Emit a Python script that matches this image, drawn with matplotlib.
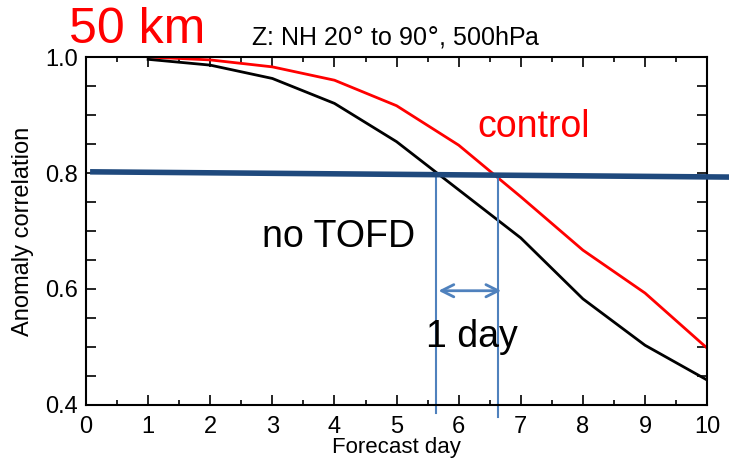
import matplotlib
matplotlib.use("Agg")
import matplotlib.pyplot as plt
from matplotlib.ticker import MultipleLocator

plt.rcParams["font.family"] = ["Liberation Sans", "DejaVu Sans"]

days = [1, 2, 3, 4, 5, 6, 7, 8, 9, 10]
control = [1.000, 0.995, 0.983, 0.960, 0.916, 0.848, 0.759, 0.667, 0.593, 0.498]
no_tofd = [0.996, 0.986, 0.963, 0.920, 0.854, 0.771, 0.688, 0.583, 0.503, 0.443]

# 0.8 threshold line (drawn slightly tilted, as in the slide) and the 1-day lead marks
thresh_x = [0.11, 10.35]
thresh_y = [0.802, 0.793]
cross_days = [5.63, 6.63]
arrow_y = 0.597

fig = plt.figure(figsize=(7.29, 4.62), dpi=100)
ax = fig.add_axes([0.118, 0.1234, 0.852, 0.7532])

ax.plot(days, control, color="#ff0000", lw=2.0)
ax.plot(days, no_tofd, color="black", lw=2.0)

ax.set_xlim(0, 10)
ax.set_ylim(0.4, 1.0)
ax.xaxis.set_major_locator(MultipleLocator(1))
ax.xaxis.set_minor_locator(MultipleLocator(0.5))
ax.yaxis.set_major_locator(MultipleLocator(0.2))
ax.yaxis.set_minor_locator(MultipleLocator(0.05))
ax.yaxis.set_major_formatter(lambda v, p: f"{v:.1f}")
ax.tick_params(which="both", direction="in", top=True, right=True, labelsize=17,
               width=1.2, length=7)
ax.tick_params(axis="x", which="minor", length=3.5)
ax.tick_params(axis="x", pad=8)
ax.tick_params(axis="y", pad=6)
for sp in ax.spines.values():
    sp.set_linewidth(1.5)

ax.set_xlabel("Forecast day", fontsize=16, labelpad=-1)
ax.set_ylabel("Anomaly correlation", fontsize=17, labelpad=8)

ax.plot(thresh_x, thresh_y, color="#1f497d", lw=4, clip_on=False, zorder=5)
ax.plot([cross_days[0]] * 2, [0.8, 0.387], color="#4f81bd", lw=1.5, clip_on=False)
ax.plot([cross_days[1]] * 2, [0.797, 0.38], color="#4f81bd", lw=1.5, clip_on=False)
ax.annotate("", xy=(cross_days[1] + 0.1, arrow_y), xytext=(cross_days[0], arrow_y),
            arrowprops=dict(arrowstyle="<->", color="#4f81bd", lw=2,
                            mutation_scale=22))

ax.text(7.20, 0.862, "control", color="#ff0000", fontsize=27, ha="center", va="baseline")
ax.text(4.07, 0.672, "no TOFD", color="black", fontsize=27, ha="center", va="baseline")
ax.text(6.22, 0.500, "1 day", color="black", fontsize=27, ha="center", va="baseline")

fig.text(0.188, 1 - 43 / 462, "50 km", color="#ff0000", fontsize=36, ha="center",
         va="baseline")
fig.text(0.543, 1 - 45 / 462, "Z: NH 20$\\degree$ to 90$\\degree$, 500hPa", fontsize=18,
         ha="center", va="baseline")

fig.savefig("out.png", dpi=100)
